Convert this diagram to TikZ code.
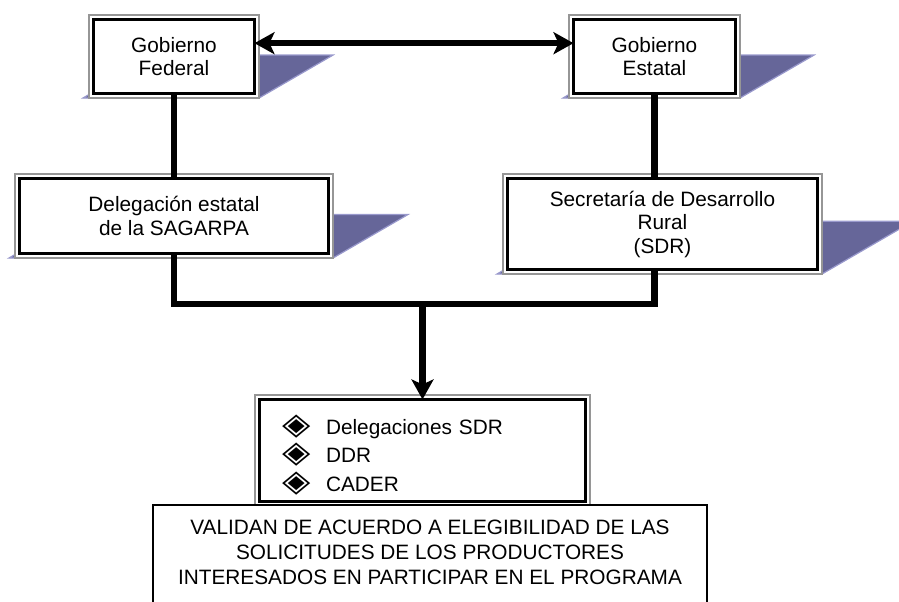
\documentclass[tikz,border=0pt]{standalone}
\usepackage{fontspec}
\setmainfont{Liberation Sans}
\newfontfamily\dingfont{DejaVu Sans}
\usetikzlibrary{arrows.meta,calc,backgrounds}

\definecolor{shadowfill}{RGB}{102,102,153}
\definecolor{shadowedge}{RGB}{153,153,204}
\definecolor{framegray}{RGB}{150,150,150}
\newcommand{\dbul}{\makebox[22pt][l]{\scalebox{1.15}[0.95]{\fontsize{16}{16}\dingfont ◈}}}

\tikzset{
  orgbox/.style={draw, line width=1.5pt, fill=white, outer sep=0pt, align=center,
    font=\fontsize{10.4}{11.75}\selectfont},
  valbox/.style={draw, line width=0.7pt, fill=white, outer sep=0pt, align=center,
    minimum width=277pt, inner ysep=7.5pt, text depth=30pt,
    font=\fontsize{10.4}{12.5}\selectfont},
  link/.style={line width=3.2pt},
  orgtip/.tip={Stealth[length=10pt,width=11pt,inset=2.5pt]}
}

\begin{document}
\begin{tikzpicture}[x=0.5pt,y=-0.5pt]
\useasboundingbox (0,0) rectangle (899,601);
\clip (0,0) rectangle (899,601);
% Gobiernos
\node[orgbox, minimum width=80.5pt, minimum height=37pt] (gf) at (174,56.5) {Gobierno\\Federal};
\node[orgbox, minimum width=81pt, minimum height=37pt] (ge) at (654.5,56.5) {Gobierno\\Estatal};
% Dependencias
\node[orgbox, minimum width=154.5pt, minimum height=37.5pt] (del) at (174,216) {Delegación estatal\\de la SAGARPA};
\node[orgbox, minimum width=155pt, minimum height=45.5pt] (sdr) at (662.5,224) {Secretaría de Desarrollo\\Rural\\(SDR)};
% Ventanillas
\node[orgbox, minimum width=163pt, minimum height=49pt, inner xsep=11.25pt, text width=140.5pt,
  align=left, text height=14pt, font=\fontsize{10.4}{14.25}\selectfont] (list) at (422.5,450.5)
  {\dbul Delegaciones SDR\\\dbul DDR\\\dbul CADER};
\node[valbox, anchor=north] (val) at (430,505)
  {VALIDAN DE ACUERDO A ELEGIBILIDAD DE LAS\\SOLICITUDES DE LOS PRODUCTORES\\INTERESADOS EN PARTICIPAR EN EL PROGRAMA};
% Sombras y marcos
\begin{scope}[on background layer]
\foreach \b in {gf,ge,del,sdr}
  \filldraw[fill=shadowfill, draw=shadowedge, line width=0.6pt]
    let \p1=(\b.south west), \p2=(\b.north east), \n1={\y2-\y1} in
    (\x1-5.25pt,\y1-2.25pt) -- (\x2+2.25pt,\y1-2.25pt)
    -- (\x2+2.25pt+\n1*1pt,\y1-2.25pt+0.58*\n1*1pt)
    -- (\x1-5.25pt+\n1*1pt,\y1-2.25pt+0.58*\n1*1pt) -- cycle;
\foreach \b in {gf,ge,del,sdr,list}
  \draw[framegray, fill=white, line width=0.6pt]
    ($(\b.south west)+(-2.25pt,-2.25pt)$) rectangle ($(\b.north east)+(2.25pt,2.25pt)$);
\end{scope}
% Conexiones
\coordinate (bus) at (422.5,304);
\draw[link, orgtip-orgtip] ($(gf.north east)!0.32!(gf.south east)$) -- ($(ge.north west)!0.32!(ge.south west)$);
\draw[link] (gf.south) -- (del.north);
\draw[link] (ge.south) -- (ge.south |- sdr.north);
\draw[link] (del.south) |- (bus) -| (ge.south |- sdr.south);
\draw[link, -orgtip] (bus) -- (list.north);
\end{tikzpicture}
\end{document}
